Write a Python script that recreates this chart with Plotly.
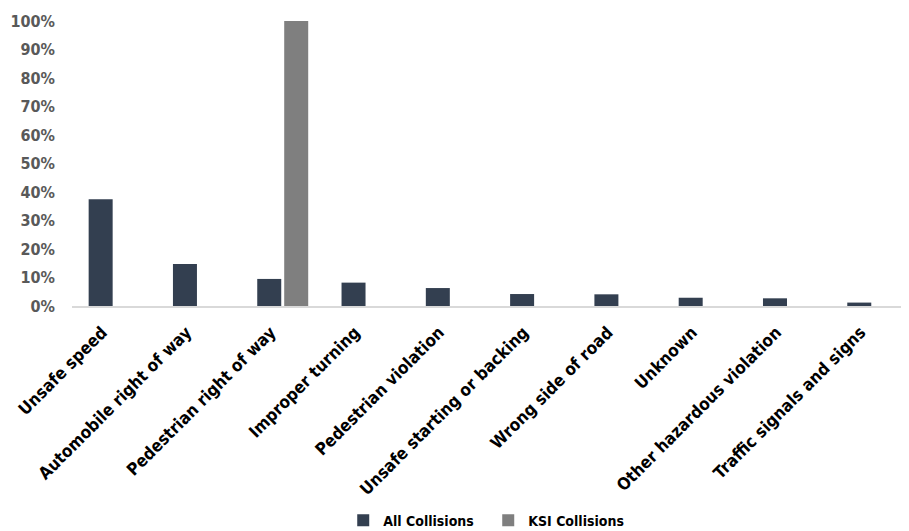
import plotly.graph_objects as go

categories = ["Unsafe speed", "Automobile right of way", "Pedestrian right of way",
              "Improper turning", "Pedestrian violation", "Unsafe starting or backing",
              "Wrong side of road", "Unknown", "Other hazardous violation",
              "Traffic signals and signs"]
all_collisions = [37.5, 14.7, 9.5, 8.2, 6.3, 4.2, 4.1, 2.9, 2.7, 1.2]
ksi_collisions = [0, 0, 100, 0, 0, 0, 0, 0, 0, 0]
y_ticks = [0, 10, 20, 30, 40, 50, 60, 70, 80, 90, 100]
y_tick_labels = [f"{v}%" for v in y_ticks]

FONT = "DejaVu Sans Condensed, Liberation Sans Narrow, Arial Narrow, sans-serif"

fig = go.Figure()
fig.add_trace(go.Bar(x=categories, y=all_collisions, name="All Collisions",
                     marker_color="#333f50", marker_line_width=0))
fig.add_trace(go.Bar(x=categories, y=ksi_collisions, name="KSI Collisions",
                     marker_color="#7f7f7f", marker_line_width=0))

fig.update_layout(
    width=901, height=523,
    margin=dict(l=64, r=0, t=13, b=225, autoexpand=False),
    paper_bgcolor="white", plot_bgcolor="white",
    barmode="group", bargap=0.36, bargroupgap=0.11,
    font=dict(family=FONT, size=16, color="#000000"),
    showlegend=True,
    legend=dict(orientation="h", x=0.533, xanchor="center", xref="container",
                y=0.02, yanchor="middle", yref="container",
                font=dict(family=FONT, size=14, color="#000000", weight="bold"),
                itemsizing="constant", traceorder="normal", entrywidth=100),
    xaxis=dict(range=[-0.5, 9.43], tickangle=-45, showline=True, linecolor="#d9d9d9",
               linewidth=1.5, ticks="", showgrid=False, automargin=False,
               ticklabelshift=-12, ticklabelstandoff=8,
               tickfont=dict(family=FONT, size=17, color="#000000", weight="bold")),
    yaxis=dict(range=[0, 100], tickvals=y_ticks, ticktext=y_tick_labels, showgrid=False,
               zeroline=False, ticks="", showline=False, automargin=False,
               tickfont=dict(family=FONT, size=16, color="#595959", weight="bold"),
               ticklabelstandoff=16),
)
fig.write_html("out.html")
